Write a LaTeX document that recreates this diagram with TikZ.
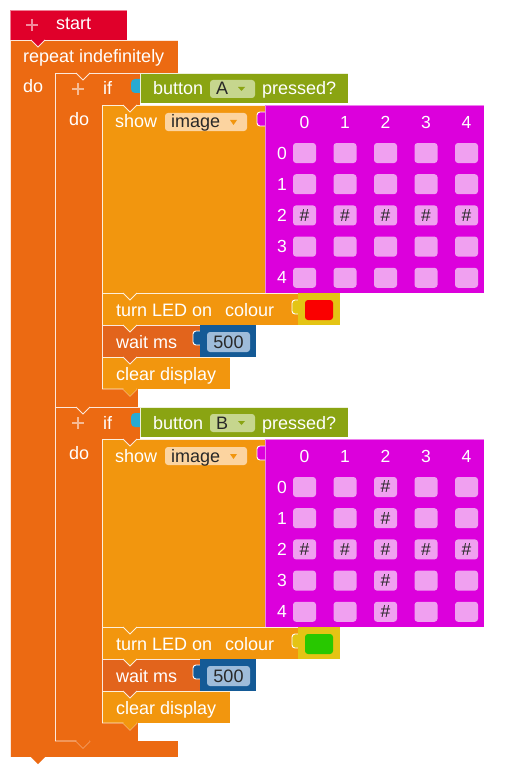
\documentclass[tikz,border=0pt]{standalone}
\usepackage{fontspec}
\setmainfont{Liberation Sans}
\definecolor{startc}{RGB}{224,0,42}
\definecolor{loopc}{RGB}{236,106,18}
\definecolor{showc}{RGB}{242,150,14}
\definecolor{waitc}{RGB}{226,100,28}
\definecolor{magc}{RGB}{220,0,220}
\definecolor{cellc}{RGB}{240,160,240}
\definecolor{btnc}{RGB}{138,164,18}
\definecolor{btnf}{RGB}{198,214,142}
\definecolor{imgf}{RGB}{252,212,160}
\definecolor{numc}{RGB}{20,90,150}
\definecolor{numf}{RGB}{158,188,218}
\definecolor{colc}{RGB}{228,196,20}
\definecolor{tabc}{RGB}{40,170,210}
\definecolor{txtd}{RGB}{40,40,40}
\definecolor{ledred}{RGB}{250,0,0}
\definecolor{ledgreen}{RGB}{40,200,0}
\tikzset{
  lbl/.style={font=\fontsize{18}{20}\selectfont, text=white, anchor=base west, inner sep=0pt},
  dk/.style={lbl, text=txtd},
  hd/.style={font=\fontsize{17.5}{19}\selectfont, text=white, inner sep=0pt},
  cell/.style={fill=cellc, rounded corners=3pt, minimum width=23pt, minimum height=20pt, inner sep=0pt, font=\fontsize{17.5}{18}\selectfont, text=txtd},
  hl/.style={white, line width=0.8pt, opacity=0.85},
  plusmark/.style={white, opacity=0.55, line width=2.6pt}
}
\newcommand\vnotch[3]{% x of block left, y top, fill colour of upper block
  \fill[#3] (#1+21,#2) -- (#1+28,#2+7) -- (#1+35,#2) -- cycle;
  \draw[hl] (#1+21,#2) -- (#1+28,#2+7) -- (#1+35,#2);
}
\newcommand\ifsec[3]{%
  % if block
  \fill[loopc] (55,73) rectangle (140,105);
  \fill[loopc] (55,73) rectangle (102,407);
  \fill[loopc] (55,389) rectangle (138,407);
  \draw[hl] (55,407) -- (55,73) -- (140,73);
  \vnotch{55}{73}{loopc}
  \draw[plusmark] (72,89) -- (84,89) (78,83) -- (78,95);
  \node[lbl] (if#1) at (103,95) {if};
  \node[lbl] (do#1) at (69,125) {do};
  % button block
  \fill[tabc, rounded corners=4pt] (131,79) rectangle (146,93);
  \fill[btnc] (140,73) rectangle (348,103);
  \draw[hl] (140,103) -- (140,73) -- (348,73);
  \node[lbl] (button#1) at (153,95) {button};
  \fill[btnf, rounded corners=3pt] (210,80) rectangle (255,98);
  \node[dk] (key#1) at (216,95) {#1};
  \fill[btnc] (238,87) -- (245,87) -- (241.5,91) -- cycle;
  \node[lbl] (pressed#1) at (262,95) {pressed?};
  % show block
  \fill[showc] (102,105) rectangle (265,293);
  \draw[hl] (102,293) -- (102,105) -- (265,105);
  \vnotch{102}{105}{loopc}
  \node[lbl] (show#1) at (115,128) {show};
  \fill[imgf, rounded corners=3pt] (165,113) rectangle (247,131);
  \node[dk] (image#1) at (171,128) {image};
  \fill[showc] (230,120) -- (237,120) -- (233.5,125) -- cycle;
  \filldraw[fill=magc, draw=white, line width=0.9pt, rounded corners=3pt] (257,112) rectangle (272,126);
  % matrix
  \fill[magc] (265,105) rectangle (484,293);
  \draw[white, opacity=0.5, line width=0.8pt] (265,293) -- (265,105) -- (484,105);
  \foreach \c in {0,...,4}{
    \node[hd] (h#1\c) at (304.5+40.5*\c,122) {\c};
  }
  \foreach \r in {0,...,4}{
    \node[hd] (r#1\r) at (282,153+31.2*\r) {\r};
    \foreach \c in {0,...,4}{
      \node[cell] (c#1\r\c) at (304.5+40.5*\c,153+31.2*\r) {\ifnum\r=2 \#\else\ifnum\c=2 \ifnum#2=1 \#\fi\fi\fi};
    }
  }
  % turn LED
  \fill[showc] (102,293) rectangle (298,325);
  \draw[hl] (102,325) -- (102,293) -- (298,293);
  \vnotch{102}{293}{showc}
  \node[lbl] (turn#1) at (116,316) {turn LED on};
  \node[lbl] (colour#1) at (225,316) {colour};
  \filldraw[fill=colc, draw=white, line width=0.9pt, rounded corners=3pt] (292,300) rectangle (305,314);
  \fill[colc] (298,293) rectangle (340,325);
  \fill[#3, rounded corners=3pt] (305,300) rectangle (333,320);
  % wait
  \fill[waitc] (102,325) rectangle (200,357);
  \draw[hl] (102,357) -- (102,325) -- (200,325);
  \vnotch{102}{325}{showc}
  \node[lbl] (wait#1) at (116,348) {wait ms};
  \filldraw[fill=numc, draw=white, line width=0.9pt, rounded corners=3pt] (193,331) rectangle (206,345);
  \fill[numc] (200,325) rectangle (256,357);
  \fill[numf, rounded corners=3pt] (207,332) rectangle (250,352);
  \node[dk, anchor=base] (num#1) at (228.5,348) {500};
  % clear display
  \fill[showc] (102,357) rectangle (230,389);
  \draw[hl] (102,389) -- (102,357) -- (230,357);
  \vnotch{102}{357}{waitc}
  \node[lbl] (clear#1) at (116,380) {clear display};
  \draw[hl] (102,389) -- (123,389) -- (130,396) -- (137,389);
  \fill[showc] (123,389) -- (130,396) -- (137,389) -- cycle;
}
\begin{document}
\begin{tikzpicture}[x=1pt,y=-1pt]
\useasboundingbox (0,0) rectangle (514,773);
\fill[white] (0,0) rectangle (514,773);
% repeat block
\fill[loopc] (10,40) rectangle (178,73);
\fill[loopc] (10,40) rectangle (55,757);
\fill[loopc] (10,741) rectangle (178,757);
\fill[loopc] (31,757) -- (38,764) -- (45,757) -- cycle;
\draw[hl] (10,757) -- (10,40) -- (178,40);
\node[lbl] (rep) at (23,63) {repeat indefinitely};
\node[lbl] (dorep) at (23,93) {do};
% if sections
\begin{scope}
  \ifsec{A}{0}{ledred}
\end{scope}
\begin{scope}[yshift=-334pt]
  \ifsec{B}{1}{ledgreen}
\end{scope}
% bottom tab of second if inside repeat
\draw[hl] (55,741) -- (76,741) -- (83,748) -- (90,741);
\fill[loopc] (76,741) -- (83,748) -- (90,741) -- cycle;
% start block
\fill[startc] (10,10) rectangle (127,40);
\draw[white, opacity=0.5, line width=0.8pt] (10,40) -- (10,10) -- (127,10);
\vnotch{10}{40}{startc}
\draw[plusmark] (26,25) -- (38,25) (32,19) -- (32,31);
\node[lbl] (start) at (56,30) {start};
\end{tikzpicture}
\end{document}
